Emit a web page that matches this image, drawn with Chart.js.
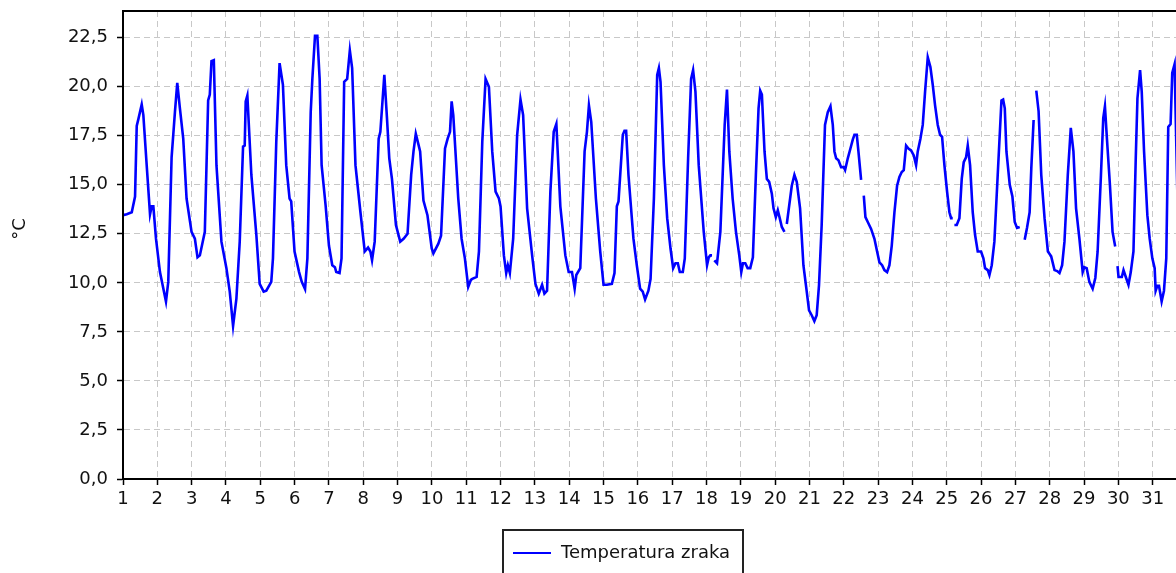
<!DOCTYPE html>
<html>
<head>
<meta charset="utf-8">
<script src="https://cdn.jsdelivr.net/npm/chart.js@4.4.0/dist/chart.umd.min.js"></script>
<style>
  html, body { margin: 0; padding: 0; background: #fff; overflow: hidden; }
  #wrap { position: absolute; left: 0; top: 0; width: 1200px; height: 573px; }
  #ytitle { position: absolute; left: 7px; top: 217px; width: 24px; height: 24px;
    font: 18px "DejaVu Sans", sans-serif; color: #111; line-height: 24px; text-align: center;
    transform: rotate(-90deg); }
  #legend { position: absolute; left: 502px; top: 529px; width: 238px; height: 60px;
    border: 2px solid #222; font: 18px "DejaVu Sans", sans-serif; color: #111; }
  #legend .swatch { position: absolute; left: 9px; top: 21px; width: 38px; height: 2px; background: #0000ff; }
  #legend .txt { position: absolute; left: 57px; top: 10px; white-space: nowrap; }
</style>
</head>
<body>
<div id="wrap"><canvas id="myChart"></canvas></div>
<div id="ytitle">°C</div>
<div id="legend"><span class="swatch"></span><span class="txt" id="legendText"></span></div>
<script>
// day of month (fractional) and air temperature; null = gap
const days = [
  1.0, 1.109, 1.255, 1.351, 1.400, 1.448, 1.545, 1.593, 1.690, 1.787, 1.835, 1.884, 1.961,
  2.077, 2.252, 2.319, 2.416, 2.513, 2.581, 2.658, 2.755, 2.852, 2.997,
  3.094, 3.171, 3.239, 3.384, 3.481, 3.529, 3.578, 3.646, 3.723, 3.868,
  4.013, 4.110, 4.207, 4.304, 4.401, 4.498, 4.546, 4.575, 4.623, 4.740, 4.885, 4.982,
  5.098, 5.175, 5.320, 5.369, 5.466, 5.562, 5.659, 5.756, 5.853, 5.901, 5.998,
  6.130, 6.208, 6.304, 6.372, 6.469, 6.517, 6.594, 6.662, 6.729, 6.787, 6.903,
  7.000, 7.097, 7.174, 7.213, 7.309, 7.367, 7.444, 7.531, 7.609, 7.676, 7.773, 7.918,
  8.043, 8.140, 8.208, 8.256, 8.333, 8.449, 8.498, 8.614, 8.691, 8.758, 8.836, 8.952,
  9.077, 9.174, 9.290, 9.396, 9.464, 9.531, 9.609, 9.657, 9.754, 9.870, 9.995,
  10.043, 10.188, 10.266, 10.382, 10.459, 10.527, 10.575, 10.623, 10.768, 10.865, 10.961,
  11.058, 11.135, 11.177, 11.303, 11.371, 11.468, 11.564, 11.661, 11.758, 11.855, 11.952,
  12.000, 12.097, 12.165, 12.213, 12.271, 12.368, 12.484, 12.581, 12.658, 12.774, 12.920,
  13.016, 13.113, 13.210, 13.278, 13.355, 13.452, 13.549, 13.626, 13.742, 13.888, 13.985,
  14.081, 14.159, 14.207, 14.323, 14.449, 14.517, 14.575, 14.643, 14.778, 14.904,
  15.001, 15.098, 15.243, 15.320, 15.388, 15.437, 15.562, 15.611, 15.659, 15.727, 15.872, 15.969,
  16.066, 16.143, 16.211, 16.308, 16.371, 16.468, 16.564, 16.613, 16.661, 16.758, 16.855, 16.952,
  17.029, 17.097, 17.165, 17.223, 17.310, 17.368, 17.465, 17.552, 17.610, 17.678, 17.774, 17.920,
  18.016, 18.065, 18.113, 18.162, 18.195, 18.229, 18.307, 18.404, 18.530, 18.597, 18.665, 18.762, 18.859, 18.955,
  19.014, 19.062, 19.130, 19.198, 19.275, 19.352, 19.439, 19.517, 19.565, 19.614, 19.691, 19.759, 19.827, 19.904, 19.953,
  20.020, 20.078, 20.127, 20.195, 20.272, 20.305, 20.340, 20.485, 20.562, 20.630, 20.727, 20.824, 20.921, 20.988,
  21.066, 21.143, 21.211, 21.279, 21.356, 21.453, 21.534, 21.612, 21.680, 21.728, 21.777, 21.845, 21.922,
  22.000, 22.039, 22.117, 22.194, 22.262, 22.311, 22.379, 22.427, 22.505, 22.545, 22.583, 22.631, 22.699, 22.796, 22.893, 22.971,
  23.039, 23.117, 23.184, 23.262, 23.330, 23.398, 23.476, 23.553, 23.621, 23.689, 23.748, 23.816, 23.883, 23.961,
  24.039, 24.107, 24.155, 24.233, 24.301, 24.369, 24.447, 24.524, 24.592, 24.660, 24.738, 24.806, 24.864, 24.932,
  25.010, 25.078, 25.126, 25.175, 25.200, 25.223, 25.291, 25.369, 25.437, 25.495, 25.563, 25.612, 25.680, 25.757, 25.825, 25.903,
  26.000, 26.068, 26.117, 26.194, 26.243, 26.311, 26.388, 26.485, 26.594, 26.643, 26.691, 26.739, 26.836, 26.913, 26.981,
  27.048, 27.126, 27.200, 27.271, 27.338, 27.415, 27.464, 27.531, 27.570, 27.609, 27.676, 27.754, 27.850, 27.947,
  28.043, 28.140, 28.217, 28.285, 28.362, 28.430, 28.527, 28.614, 28.691, 28.768, 28.865, 28.961,
  29.010, 29.077, 29.155, 29.251, 29.329, 29.396, 29.493, 29.560, 29.609, 29.667, 29.754, 29.831, 29.908, 29.940, 29.976,
  30.005, 30.101, 30.150, 30.217, 30.295, 30.362, 30.440, 30.507, 30.556, 30.633, 30.681, 30.749, 30.845, 30.913, 30.990,
  31.058, 31.087, 31.135, 31.184, 31.261, 31.329, 31.396, 31.454, 31.522, 31.570, 31.638, 31.720
];
const temps = [
  13.45, 13.5, 13.6, 14.4, 18.0, 18.35, 19.1, 18.55, 16.0, 13.5, 13.9, 13.9, 12.25,
  10.55, 9.05, 10.05, 16.4, 18.7, 20.2, 18.9, 17.35, 14.3, 12.6,
  12.25, 11.3, 11.4, 12.6, 19.3, 19.6, 21.3, 21.35, 16.0, 12.1,
  10.75, 9.55, 7.8, 9.2, 12.1, 16.95, 17.0, 19.25, 19.55, 15.5, 12.45, 9.95,
  9.55, 9.6, 10.05, 11.25, 17.2, 21.2, 20.1, 16.0, 14.3, 14.15, 11.6,
  10.55, 10.05, 9.68, 11.25, 18.7, 20.4, 22.6, 22.6, 20.4, 16.0, 13.95,
  11.9, 10.9, 10.8, 10.55, 10.5, 11.25, 20.25, 20.4, 21.85, 20.95, 16.0, 13.6,
  11.6, 11.8, 11.6, 11.15, 12.1, 17.35, 17.7, 20.6, 18.4, 16.35, 15.3, 12.95,
  12.1, 12.25, 12.5, 15.5, 16.7, 17.6, 17.05, 16.7, 14.2, 13.45, 11.75,
  11.5, 12.0, 12.4, 16.85, 17.35, 17.7, 19.25, 18.55, 14.3, 12.25, 11.25,
  9.8, 10.15, 10.2, 10.3, 11.6, 17.2, 20.4, 20.0, 16.7, 14.65, 14.3,
  13.9, 11.4, 10.5, 10.9, 10.5, 12.25, 17.55, 19.35, 18.55, 13.8, 11.4,
  9.95, 9.45, 9.9, 9.45, 9.6, 14.65, 17.7, 18.1, 13.9, 11.4, 10.55,
  10.55, 9.7, 10.4, 10.75, 16.7, 17.7, 19.05, 18.2, 14.3, 11.6,
  9.9, 9.9, 9.95, 10.5, 13.9, 14.15, 17.55, 17.75, 17.75, 15.5, 12.25, 10.9,
  9.7, 9.55, 9.15, 9.6, 10.2, 14.3, 20.6, 20.95, 20.25, 16.0, 13.3, 11.75,
  10.75, 11.0, 11.0, 10.55, 10.55, 11.25, 16.35, 20.4, 20.85, 19.75, 16.0, 12.6,
  10.9, 11.3, 11.4, 11.4, null, 11.15, 11.0, 12.6, 18.05, 19.85, 16.7, 14.3, 12.6, 11.4,
  10.55, 11.0, 11.0, 10.75, 10.75, 11.3, 15.5, 18.9, 19.8, 19.6, 16.7, 15.3, 15.15, 14.55, 13.8,
  13.35, 13.7, 13.35, 12.85, 12.6, null, 13.0, 14.95, 15.5, 15.15, 13.8, 10.9, 9.55, 8.6,
  8.35, 8.05, 8.35, 9.9, 12.95, 18.05, 18.7, 19.0, 18.05, 16.7, 16.35, 16.25, 15.9,
  15.9, 15.75, 16.35, 16.85, 17.3, 17.55, 17.55, 16.7, 15.25, null, 14.45, 13.35, 13.1, 12.75, 12.25, 11.6,
  11.05, 10.9, 10.65, 10.55, 10.9, 11.9, 13.6, 14.95, 15.4, 15.65, 15.75, 17.0, 16.85, 16.75,
  16.5, 16.0, 16.7, 17.35, 18.05, 19.75, 21.5, 21.0, 20.1, 19.05, 18.05, 17.55, 17.45, 16.0,
  14.65, 13.6, 13.3, 13.3, null, 12.95, 12.95, 13.3, 15.3, 16.15, 16.4, 17.0, 16.0, 13.6, 12.45, 11.6,
  11.6, 11.25, 10.75, 10.65, 10.4, 10.9, 12.1, 15.5, 19.3, 19.35, 18.9, 16.7, 15.0, 14.4, 13.1,
  12.8, 12.85, null, 12.2, 12.8, 13.6, 15.85, 18.3, null, 19.8, 18.75, 15.5, 13.3, 11.6,
  11.35, 10.65, 10.6, 10.5, 10.9, 12.1, 15.5, 17.9, 16.7, 13.8, 12.25, 10.55,
  10.8, 10.75, 10.05, 9.7, 10.25, 11.6, 15.5, 18.4, 19.0, 17.35, 15.0, 12.6, 11.85, null, 10.85,
  10.3, 10.3, 10.65, 10.3, 9.9, 10.55, 11.6, 16.35, 19.4, 20.85, 19.75, 16.7, 13.45, 12.25, 11.25,
  10.75, 9.6, 9.85, 9.85, 9.05, 9.6, 11.25, 17.95, 18.1, 20.7, 21.15, 14.5
];
const seriesLabel = "Temperatura zraka";
const yTitle = "°C";
const xTicks = [1, 2, 3, 4, 5, 6, 7, 8, 9, 10, 11, 12, 13, 14, 15, 16, 17, 18, 19, 20, 21, 22, 23, 24, 25, 26, 27, 28, 29, 30, 31];
const yTicks = [0, 2.5, 5, 7.5, 10, 12.5, 15, 17.5, 20, 22.5];

document.getElementById('legendText').textContent = seriesLabel;
document.getElementById('ytitle').textContent = yTitle;

const points = days.map((d, i) => ({ x: d, y: temps[i] }));

// black frame round the plot area
const frame = {
  id: 'frame',
  afterDraw(chart) {
    const a = chart.chartArea, c = chart.ctx;
    c.save();
    c.strokeStyle = '#000';
    c.lineWidth = 2;
    c.strokeRect(a.left, a.top, a.right - a.left, a.bottom - a.top);
    c.restore();
  }
};

const tickFont = { family: '"DejaVu Sans", sans-serif', size: 18 };

new Chart(document.getElementById('myChart'), {
  type: 'line',
  data: {
    datasets: [{
      label: seriesLabel,
      data: points,
      borderColor: '#0000ff',
      borderWidth: 2.6,
      pointRadius: 0,
      tension: 0,
      spanGaps: false
    }]
  },
  options: {
    responsive: true,
    maintainAspectRatio: false,
    animation: false,
    layout: { padding: { top: 11, right: 13, left: 0, bottom: 0 } },
    plugins: { legend: { display: false }, tooltip: { enabled: false } },
    scales: {
      x: {
        type: 'linear',
        min: 1,
        max: 32,
        afterBuildTicks: s => { s.ticks = xTicks.map(v => ({ value: v })); },
        afterFit: s => { s.height = 94; },
        ticks: { font: tickFont, color: '#111', padding: 4, maxRotation: 0, autoSkip: false },
        grid: { color: '#c8c8c8', lineWidth: 1, tickColor: '#000', tickLength: 6, tickWidth: 1.5 },
        border: { color: '#000', width: 2, dash: [6, 4] }
      },
      y: {
        min: 0,
        max: 23.86,
        afterBuildTicks: s => { s.ticks = yTicks.map(v => ({ value: v })); },
        afterFit: s => { s.width = 123; s.paddingTop = 0; s.paddingBottom = 0; },
        ticks: {
          font: tickFont, color: '#111', padding: 9,
          callback: v => v.toFixed(1).replace('.', ',')
        },
        grid: { color: '#c8c8c8', lineWidth: 1, tickColor: '#000', tickLength: 6, tickWidth: 1.5 },
        border: { color: '#000', width: 2, dash: [6, 4] }
      }
    }
  },
  plugins: [frame]
});
</script>
</body>
</html>
